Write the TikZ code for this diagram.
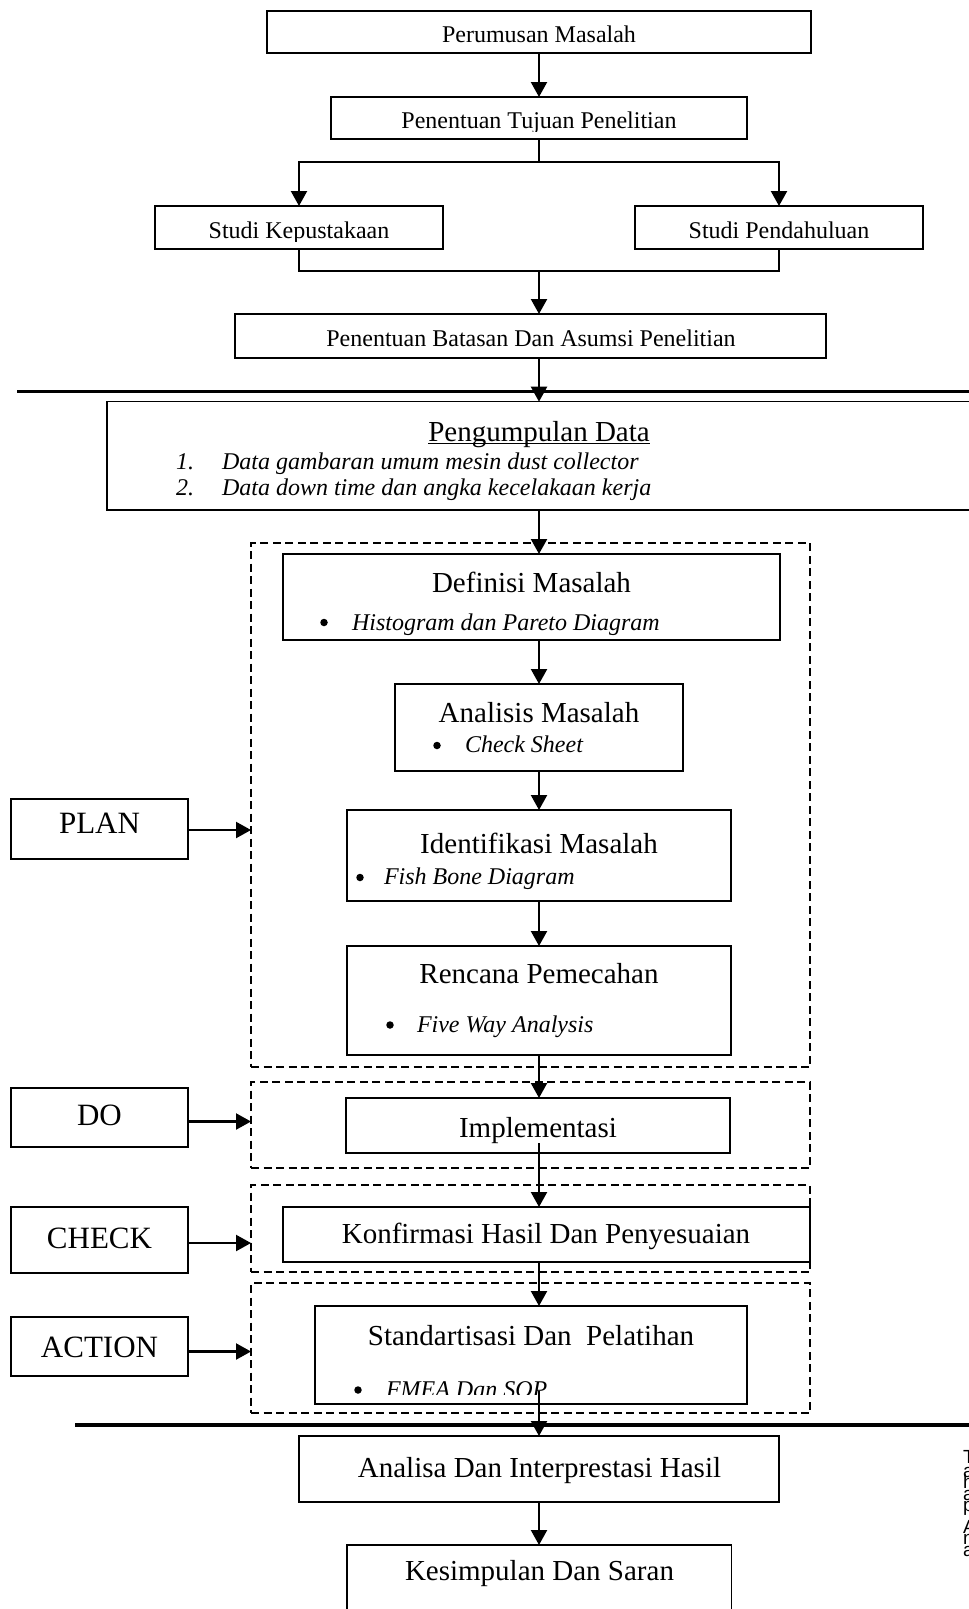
\documentclass[tikz,border=0pt]{standalone}
\usepackage{fontspec}
\setmainfont{Liberation Serif}
\newfontfamily\sansf{Liberation Sans}
\usetikzlibrary{arrows.meta,fit}
\newcommand\fzA{\fontsize{24}{28}\selectfont}
\newcommand\fzB{\fontsize{29}{34}\selectfont}
\newcommand\fzC{\fontsize{31}{36}\selectfont}
\begin{document}
\begin{tikzpicture}[x=1pt,y=-1pt,
  box/.style={draw, line width=1.5pt, inner sep=0pt, outer sep=0pt},
  txt/.style={inner sep=0pt, outer sep=0pt, anchor=base},
  ltxt/.style={inner sep=0pt, outer sep=0pt, anchor=base west},
  dot/.style={circle, fill, inner sep=0pt, outer sep=0pt, minimum size=7.5pt},
  conn/.style={line width=2.2pt, -{Triangle[length=15pt,width=16pt]}},
  ln/.style={line width=2.2pt},
  dbox/.style={draw, line width=1.6pt, dash pattern=on 8pt off 4.5pt, inner sep=0pt, outer sep=0pt},
  sepline/.style={line width=3.5pt}]
\useasboundingbox (0,0) rectangle (969,1609);
\fill[white] (0,0) rectangle (969,1609);
\clip (0,0) rectangle (969,1609);
\coordinate (spine) at (539,0);

% ---- top part
\node[box, fit={(267,11)(811,53)}] (perumusan) {};
\node[txt,font=\fzA] (tperumusan) at (539,42) {Perumusan Masalah};

\node[box, fit={(331,97)(747,139)}] (tujuan) {};
\begin{scope}
\clip (331,97) rectangle (747,131);
\node[txt,font=\fzA] (ttujuan) at (539,128) {Penentuan Tujuan Penelitian};
\end{scope}

\node[box, fit={(155,206)(443,249)}] (kep) {};
\begin{scope}
\clip (155,206) rectangle (443,241);
\node[txt,font=\fzA] (tkep) at (299,238) {Studi Kepustakaan};
\end{scope}
\node[box, fit={(635,206)(923,249)}] (pend) {};
\node[txt,font=\fzA] (tpend) at (779,238) {Studi Pendahuluan};

\node[box, fit={(235,314)(826,358)}] (batasan) {};
\node[txt,font=\fzA] (tbatasan) at (531,346.5) {Penentuan Batasan Dan Asumsi Penelitian};

\draw[conn] (perumusan.south -| spine) -- (tujuan.north -| spine);
\coordinate (split) at (539,162);
\draw[ln] (tujuan.south -| spine) -- (split);
\draw[conn] (split) -| (kep.north);
\draw[conn] (split) -| (pend.north);
\coordinate (merge) at (539,271);
\draw[ln] (kep.south) |- (merge);
\draw[ln] (pend.south) |- (merge);
\draw[conn] (merge) -- (batasan.north -| spine);

% ---- separator 1
\draw[sepline] (17,391.7) -- (990,391.7);

% ---- data collection
\node[box, fit={(107,401.7)(1000,510)}] (peng) {};
\node[txt,font=\fzB] (tpeng) at (539,441) {Pengumpulan Data};
\draw[line width=1.3pt] ([yshift=-2.5pt]tpeng.base west) -- ([yshift=-2.5pt]tpeng.base east);
\node[ltxt,font=\fzA\itshape] (n1) at (176,469) {1.};
\node[ltxt,font=\fzA\itshape] (i1) at (222,469) {Data gambaran umum mesin dust collector};
\node[ltxt,font=\fzA\itshape] (n2) at (176,495) {2.};
\node[ltxt,font=\fzA\itshape] (i2) at (222,495) {Data down time dan angka kecelakaan kerja};
\draw[conn] (batasan.south -| spine) -- (peng.north -| spine);

% ---- PLAN
\node[dbox, fit={(251,543)(810,1067)}] (plan) {};
\node[box, fit={(283,554)(780,640)}] (definisi) {};
\node[txt,font=\fzB] (tdef) at (531.5,592) {Definisi Masalah};
\node[dot] (bdef) at (324,622.5) {};
\node[ltxt,font=\fzA\itshape] (idef) at (352,630) {Histogram dan Pareto Diagram};

\node[box, fit={(395,684)(683,771)}] (analisis) {};
\node[txt,font=\fzB] (tana) at (539,722) {Analisis Masalah};
\node[dot] (bana) at (437,745.5) {};
\node[ltxt,font=\fzA\itshape] (iana) at (465,752) {Check Sheet};

\node[box, fit={(347,810)(731,901)}] (identifikasi) {};
\node[txt,font=\fzB] (tide) at (539,853) {Identifikasi Masalah};
\node[dot] (bide) at (360,877.5) {};
\node[ltxt,font=\fzA\itshape] (iide) at (384,884) {Fish Bone Diagram};

\node[box, fit={(347,946)(731,1055)}] (rencana) {};
\node[txt,font=\fzB] (tren) at (539,983) {Rencana Pemecahan};
\node[dot] (bren) at (390,1025) {};
\node[ltxt,font=\fzA\itshape] (iren) at (417,1032) {Five Way Analysis};

\draw[conn] (peng.south -| spine) -- (definisi.north -| spine);
\draw[conn] (definisi.south -| spine) -- (analisis.north -| spine);
\draw[conn] (analisis.south -| spine) -- (identifikasi.north -| spine);
\draw[conn] (identifikasi.south -| spine) -- (rencana.north -| spine);

% ---- DO
\node[dbox, fit={(251,1082)(810,1168)}] (do) {};
\node[box, fit={(346,1098)(730,1153)}] (impl) {};
\node[txt,font=\fzB] (timpl) at (538,1137) {Implementasi};
\draw[conn] (rencana.south -| spine) -- (impl.north -| spine);

% ---- CHECK
\node[dbox, fit={(251,1185)(810,1272)}] (check) {};
\node[box, fit={(283,1207)(810,1262)}] (konf) {};
\node[txt,font=\fzB] (tkonf) at (546,1243) {Konfirmasi Hasil Dan Penyesuaian};
\coordinate (implout) at (539,1143);
\draw[conn] (implout) -- (konf.north -| spine);

% ---- ACTION
\node[dbox, fit={(251,1283)(810,1413)}] (action) {};
\node[box, fit={(315,1306)(747,1404)}] (std) {};
\node[txt,font=\fzB] (tstd) at (531,1345) {Standartisasi Dan\ \ Pelatihan};
\begin{scope}
\clip (315,1306) rectangle (747,1394);
\node[dot] (bstd) at (358,1390) {};
\node[ltxt,font=\fzA\itshape] (istd) at (386,1397) {FMEA Dan SOP};
\end{scope}
\draw[conn] (konf.south -| spine) -- (std.north -| spine);

% ---- separator 2
\draw[sepline] (75,1425) -- (990,1425);

% ---- bottom
\node[box, fit={(299,1436)(779,1502)}] (analisa) {};
\node[txt,font=\fzB] (tanalisa) at (539.5,1477) {Analisa Dan Interprestasi Hasil};
\node[box, fit={(347,1545)(731.5,1660)}] (kesimpulan) {};
\node[txt,font=\fzB] (tkes) at (539.5,1580) {Kesimpulan Dan Saran};
\coordinate (stdout) at (539,1391);
\draw[conn] (stdout) -- (analisa.north -| spine);
\draw[conn] (analisa.south -| spine) -- (kesimpulan.north -| spine);

% ---- left labels
\node[box, fit={(11,799)(188,859)}] (lplan) {};
\node[txt,font=\fzC] (tlplan) at (99.5,833) {PLAN};
\node[box, fit={(11,1088)(188,1147)}] (ldo) {};
\node[txt,font=\fzC] (tldo) at (99.5,1125) {DO};
\node[box, fit={(11,1207)(188,1273)}] (lcheck) {};
\node[txt,font=\fzC] (tlcheck) at (99.5,1248) {CHECK};
\node[box, fit={(11,1317)(188,1376)}] (laction) {};
\node[txt,font=\fzC] (tlaction) at (99.5,1357) {ACTION};

\draw[conn] ([yshift=-1pt]lplan.east) -- ([yshift=-1pt]lplan.east -| plan.west);
\draw[conn] ([yshift=-4pt]ldo.east) -- ([yshift=-4pt]ldo.east -| do.west);
\draw[conn] ([yshift=-3pt]lcheck.east) -- ([yshift=-3pt]lcheck.east -| check.west);
\draw[conn] ([yshift=-5pt]laction.east) -- ([yshift=-5pt]laction.east -| action.west);

% ---- clipped vertical text at the right edge
\node[ltxt] (vtext) at (963,1463) {\sansf\fontsize{19}{11.5}\selectfont\vtop{\lineskiplimit=-50pt\baselineskip=11.5pt
  \hbox{T}\vskip2.5pt\hbox{a}\hbox{h}\hbox{a}\hbox{p}\vskip10pt\hbox{A}\hbox{n}\hbox{a}}};
\end{tikzpicture}
\end{document}
